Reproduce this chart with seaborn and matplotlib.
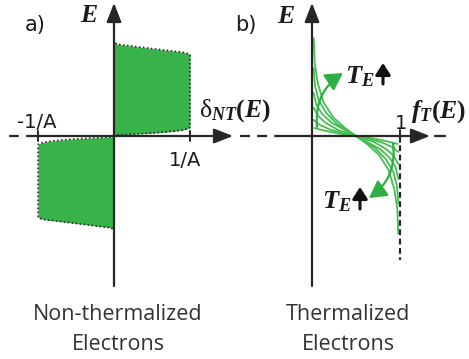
import numpy as np
import pandas as pd
import matplotlib
matplotlib.use("Agg")
import matplotlib.pyplot as plt
import seaborn as sns
from matplotlib.patches import FancyArrowPatch

# ---------------- data ----------------
# panel a: non-thermalized distribution delta_NT(E) for E>0 (x in units of 1/A, E normalised),
# the E<0 branch is its mirror image
nt_energy = [0.000, 0.005, 0.012, 0.029, 0.040, 0.050, 0.062, 0.075, 0.085, 0.100,
             0.860, 0.875, 0.890, 0.920, 0.950, 0.975, 0.990, 1.000]
nt_delta = [0.000, 0.000, 0.050, 0.470, 0.650, 0.780, 0.890, 0.960, 0.990, 1.000,
            1.000, 0.985, 0.910, 0.600, 0.300, 0.050, 0.010, 0.000]

# panel b: thermalized distributions f_T(E), upper halves (E >= 0),
# from the highest T_E curve to the lowest; the E < 0 halves are point-symmetric about (0.5, 0)
fT1_f = [0.020, 0.030, 0.065, 0.130, 0.240, 0.375, 0.500]
fT1_E = [1.040, 0.780, 0.565, 0.360, 0.200, 0.085, 0.000]
fT2_f = [0.018, 0.035, 0.075, 0.162, 0.284, 0.500]
fT2_E = [0.720, 0.530, 0.383, 0.245, 0.128, 0.000]
fT3_f = [0.018, 0.050, 0.116, 0.227, 0.500]
fT3_E = [0.460, 0.330, 0.234, 0.138, 0.000]
fT4_f = [0.020, 0.070, 0.159, 0.295, 0.500]
fT4_E = [0.300, 0.213, 0.138, 0.064, 0.000]
fT5_f = [0.020, 0.091, 0.205, 0.341, 0.500]
fT5_E = [0.170, 0.117, 0.069, 0.032, 0.000]
fT6_f = [0.025, 0.136, 0.295, 0.500]
fT6_E = [0.085, 0.059, 0.027, 0.000]

ticks_a = [-1, 1]
tick_labels_a = ["-1/A", "1/A"]
ticks_b = [1]
tick_labels_b = ["1"]
panel_labels = ["a)", "b)"]
bottom_labels = [("Non-thermalized", "Electrons"), ("Thermalized", "Electrons")]

# ---------------- style ----------------
sns.set_theme(style="white")
plt.rcParams["font.family"] = ["DejaVu Sans"]
plt.rcParams["mathtext.fontset"] = "custom"
plt.rcParams["mathtext.it"] = "Liberation Serif:italic:bold"
plt.rcParams["mathtext.rm"] = "Liberation Serif:bold"
plt.rcParams["mathtext.bf"] = "Liberation Serif:bold"
plt.rcParams["mathtext.sf"] = "Liberation Serif"

FILL_GREEN = "#37b34a"
LINE_GREEN = "#45bd52"
ARROW_GREEN = "#2eae45"
AXIS_COLOR = "#262626"
TEXT_COLOR = "#1a1a1a"

W, H, DPI = 469, 359, 100
AX_ROW = 136          # pixel row of the E=0 axis
E_PX = 94             # pixels per E unit
A_X0, A_UNIT = 114, 76
B_X0, B_UNIT = 312, 88

fig = plt.figure(figsize=(W / DPI, H / DPI), dpi=DPI)
fig.patch.set_facecolor("white")


def make_axes(x0, unit, label):
    ax = fig.add_axes([0, 0, 1, 1], label=label)
    ax.set_xlim(-x0 / unit, (W - x0) / unit)
    ax.set_ylim(-(H - AX_ROW) / E_PX, AX_ROW / E_PX)
    ax.axis("off")
    ax.patch.set_alpha(0)
    return ax


ax_a = make_axes(A_X0, A_UNIT, "a")
ax_b = make_axes(B_X0, B_UNIT, "b")


def xa(px):
    return (px - A_X0) / A_UNIT


def xb(px):
    return (px - B_X0) / B_UNIT


def ey(py):
    return (AX_ROW - py) / E_PX


def axis_arrow(ax, start, end):
    ax.annotate("", xy=end, xytext=start, xycoords="data", textcoords="data",
                annotation_clip=False,
                arrowprops=dict(arrowstyle="-|>,head_length=1.15,head_width=0.45",
                                mutation_scale=10, lw=1.6, color=AXIS_COLOR,
                                shrinkA=0, shrinkB=0), zorder=5)


def fig_text(px, py, s, **kw):
    fig.text(px / W, 1 - py / H, s, **kw)


# ---------------- panel a ----------------
E_up = np.array(nt_energy)
d_up = np.array(nt_delta)
ax_a.fill_betweenx(E_up, 0, d_up, color=FILL_GREEN, lw=0, zorder=1)
ax_a.fill_betweenx(-E_up, -d_up, 0, color=FILL_GREEN, lw=0, zorder=1)
sns.lineplot(x=d_up, y=E_up, sort=False, estimator=None, ax=ax_a, color="#2a2a2a",
             lw=1.2, linestyle=(0, (1, 1.4)), zorder=2)
sns.lineplot(x=-d_up, y=-E_up, sort=False, estimator=None, ax=ax_a, color="#2a2a2a",
             lw=1.2, linestyle=(0, (1, 1.4)), zorder=2)

axis_arrow(ax_a, (0, ey(286)), (0, ey(3)))
axis_arrow(ax_a, (xa(27), 0), (xa(233), 0))
ax_a.plot([xa(10), xa(18)], [0, 0], color=AXIS_COLOR, lw=1.6)
ax_a.plot([xa(240), xa(283)], [0, 0], color=AXIS_COLOR, lw=1.6, dashes=(4.5, 3.2))
for t in ticks_a:
    ax_a.plot([t, t], [ey(131), ey(141)], color=AXIS_COLOR, lw=1.4, zorder=5)

# ---------------- panel b ----------------
rows = []
curves = [(fT1_f, fT1_E), (fT2_f, fT2_E), (fT3_f, fT3_E),
          (fT4_f, fT4_E), (fT5_f, fT5_E), (fT6_f, fT6_E)]
for i, (fu, Eu) in enumerate(curves):
    f_full = list(fu) + [1.0 - v for v in reversed(fu[:-1])]
    E_full = list(Eu) + [-v for v in reversed(Eu[:-1])]
    rows.append(pd.DataFrame({"f": f_full, "E": E_full, "curve": i}))
df = pd.concat(rows, ignore_index=True)
sns.lineplot(data=df, x="f", y="E", units="curve", estimator=None, sort=False,
             color=LINE_GREEN, lw=1.3, ax=ax_b, legend=False, zorder=3)

axis_arrow(ax_b, (0, ey(286)), (0, ey(3)))
axis_arrow(ax_b, (xb(283), 0), (xb(430), 0))
ax_b.plot([xb(435), xb(445)], [0, 0], color=AXIS_COLOR, lw=1.6)
for t in ticks_b:
    ax_b.plot([t, t], [ey(130), ey(142)], color=AXIS_COLOR, lw=1.4, zorder=5)
    ax_b.plot([t, t], [0, ey(260)], color=AXIS_COLOR, lw=1.6, dashes=(2.6, 1.6), zorder=4)

for start, end in [((xb(317), ey(127)), (xb(343), ey(73))),
                   ((xb(393), ey(143)), (xb(369), ey(198)))]:
    ax_b.add_patch(FancyArrowPatch(start, end, connectionstyle="arc3,rad=-0.3",
                                   arrowstyle="-|>,head_length=0.8,head_width=0.45",
                                   mutation_scale=13, lw=1.6, color=ARROW_GREEN,
                                   shrinkA=0, shrinkB=0, zorder=6))

# ---------------- text ----------------
fig_text(25, 31, panel_labels[0], fontsize=15, color=TEXT_COLOR, va="baseline")
fig_text(235, 31, panel_labels[1], fontsize=15, color=TEXT_COLOR, va="baseline")
fig_text(80, 22, r"$E$", fontsize=18.5, color=TEXT_COLOR, va="baseline")
fig_text(277, 23, r"$E$", fontsize=18.5, color=TEXT_COLOR, va="baseline")
fig_text(17, 128, tick_labels_a[0], fontsize=14, color=TEXT_COLOR, va="baseline")
fig_text(185, 166, tick_labels_a[1], fontsize=14, color=TEXT_COLOR, va="baseline", ha="center")
fig_text(401, 129, tick_labels_b[0], fontsize=14, color=TEXT_COLOR, va="baseline", ha="center")
fig_text(199, 117, r"$\mathsf{δ}_{NT}(E)$", fontsize=18.5, color=TEXT_COLOR, va="baseline")
fig_text(411, 118, r"$f_{T}(E)$", fontsize=18.5, color=TEXT_COLOR, va="baseline")
fig_text(345, 83, r"$T_E$", fontsize=19, color=TEXT_COLOR, va="baseline")
fig_text(322, 208, r"$T_E$", fontsize=19, color=TEXT_COLOR, va="baseline")
for (x, y0, y1) in [(383, 84, 63), (360, 209, 187)]:
    fig.add_artist(FancyArrowPatch((x / W, 1 - y0 / H), (x / W, 1 - y1 / H),
                                   transform=fig.transFigure,
                                   arrowstyle="-|>,head_length=0.7,head_width=0.45",
                                   mutation_scale=10, lw=2.2, color="#111111",
                                   shrinkA=0, shrinkB=0))

for cx, (l1, l2) in zip([118, 348], bottom_labels):
    fig_text(cx, 320, l1, fontsize=15.5, color="#333333", ha="center", va="baseline",
             family=["Open Sans", "DejaVu Sans"])
    fig_text(cx, 350, l2, fontsize=15.5, color="#333333", ha="center", va="baseline",
             family=["Open Sans", "DejaVu Sans"])

fig.savefig("out.png", dpi=DPI, facecolor="white")
